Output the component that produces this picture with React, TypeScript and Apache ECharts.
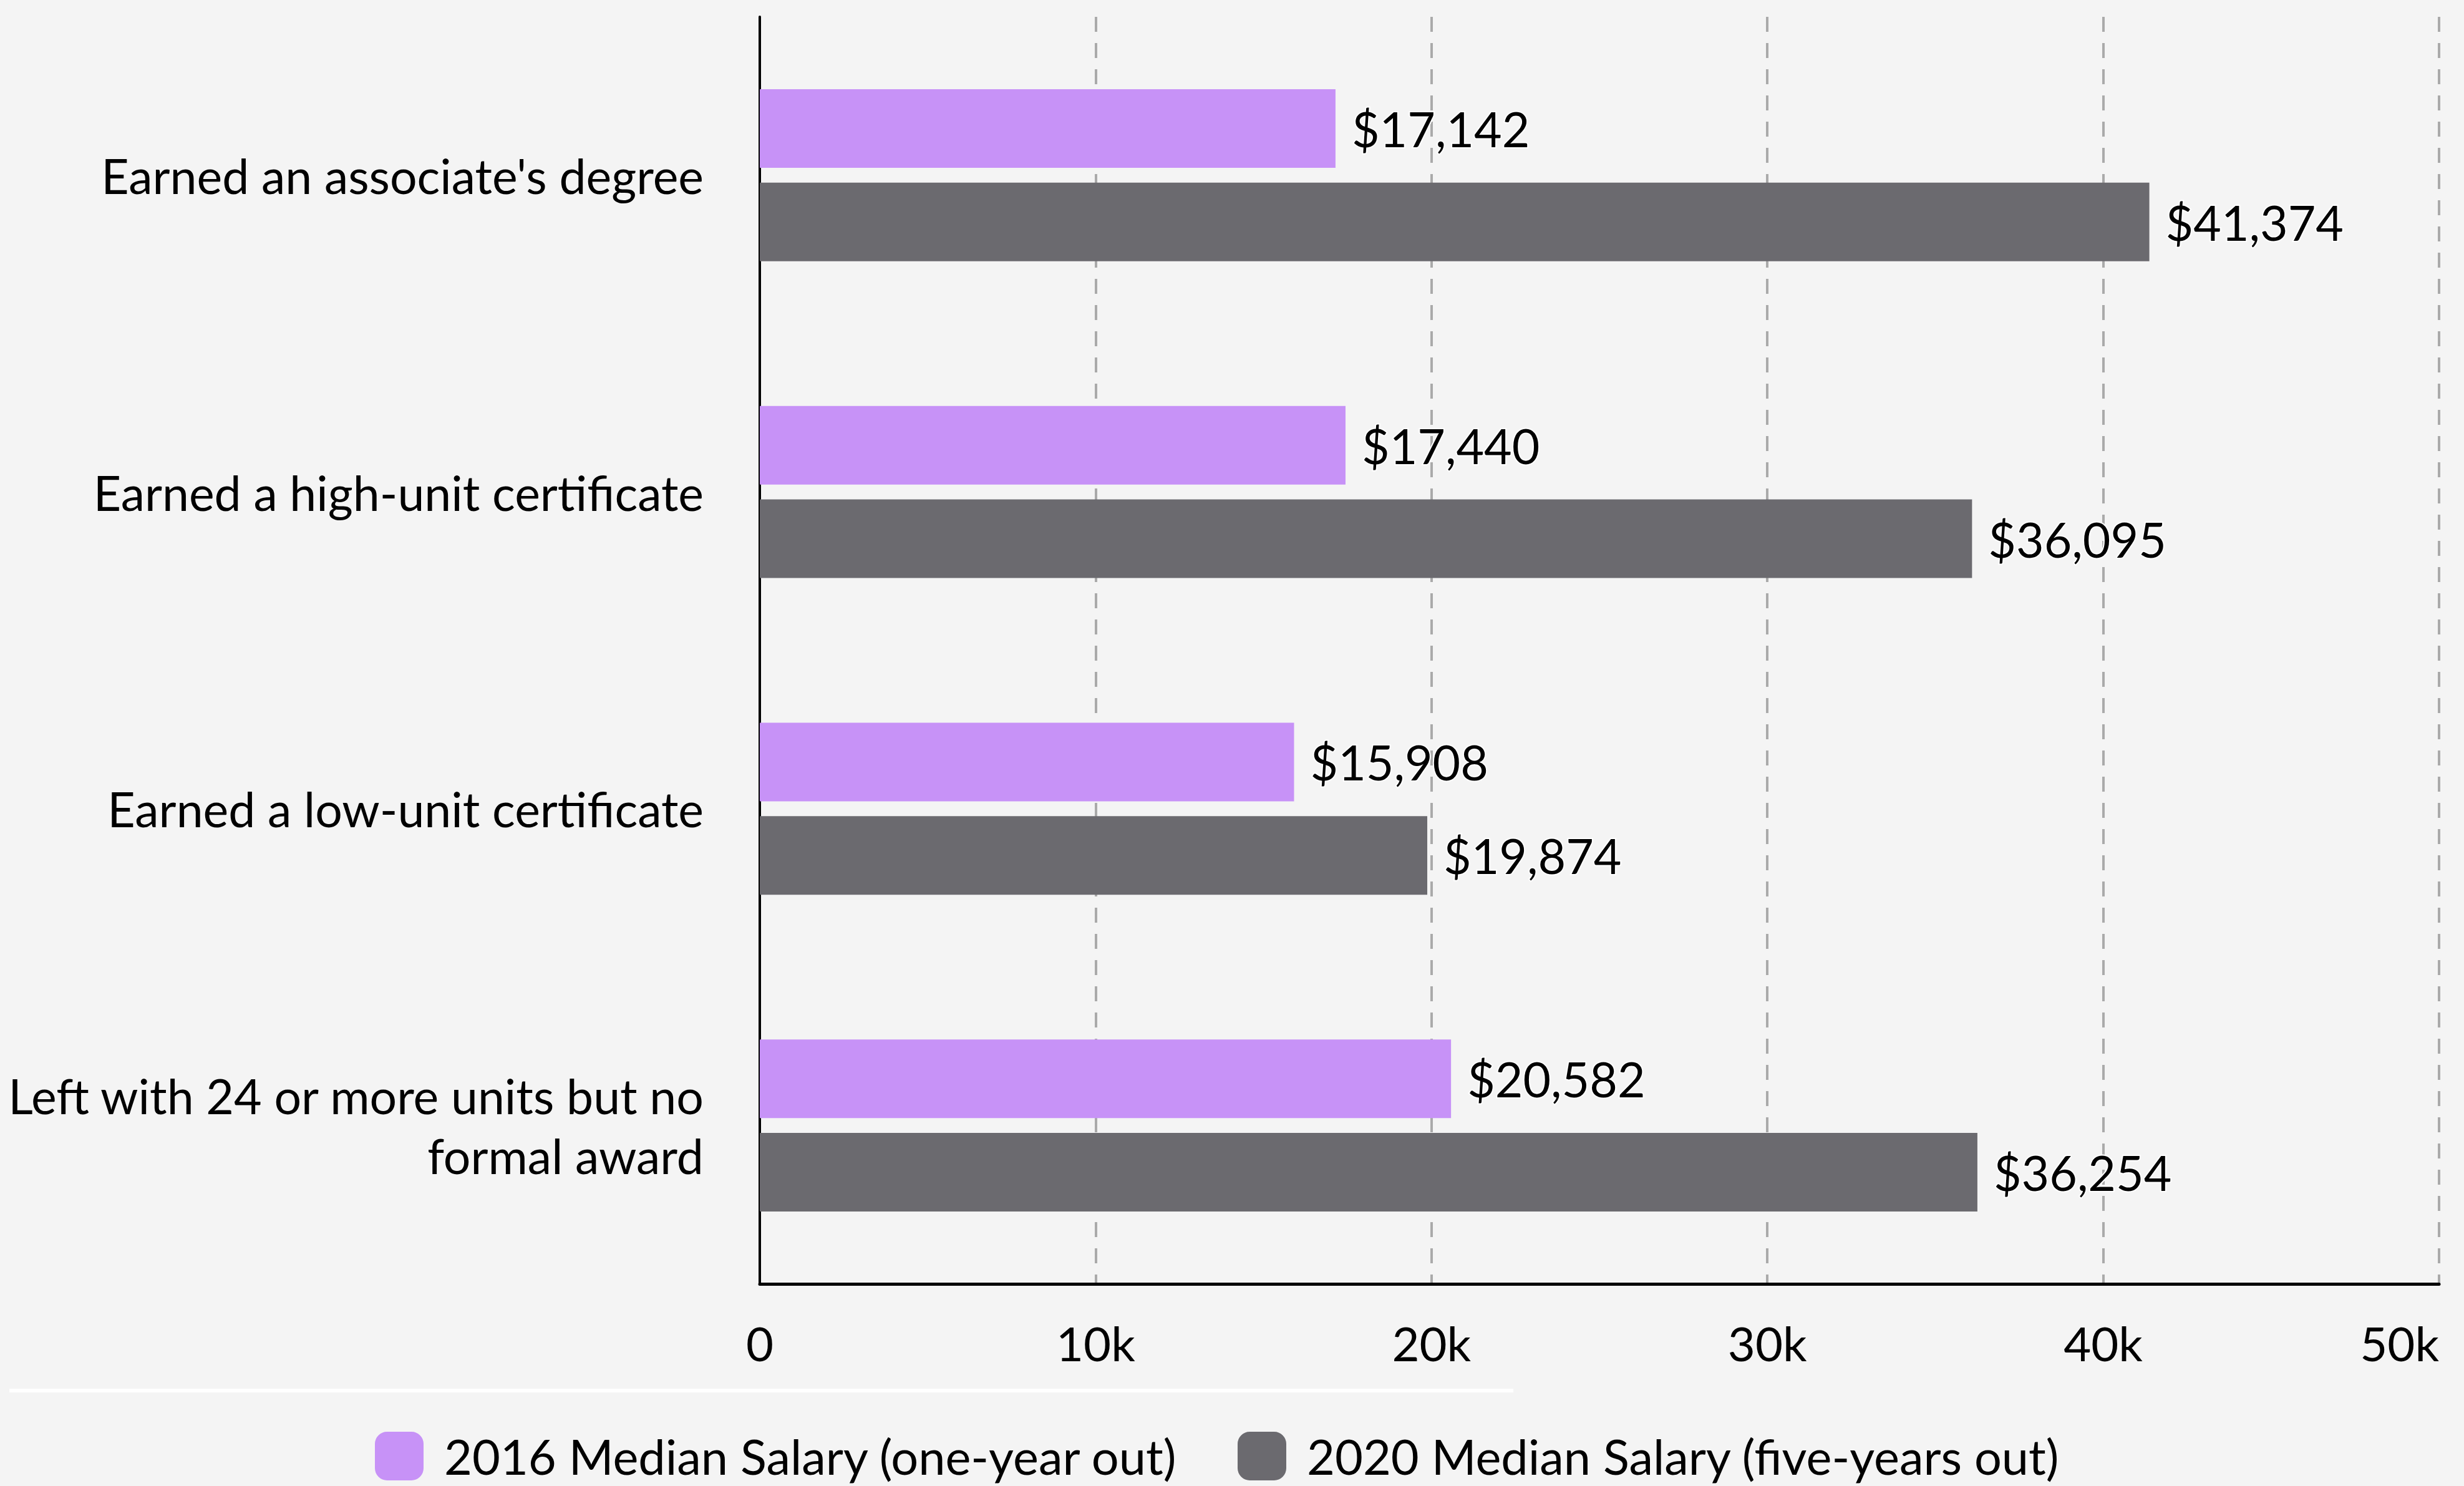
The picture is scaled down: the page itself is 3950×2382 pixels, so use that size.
import React, { useEffect, useRef } from "react";
import * as echarts from "echarts";

const categories = [
  "Earned an associate's degree",
  "Earned a high-unit certificate",
  "Earned a low-unit certificate",
  "Left with 24 or more units but no\nformal award",
];
const seriesNames = [
  "2016 Median Salary (one-year out)",
  "2020 Median Salary (five-years out)",
];
const salary2016 = [17142, 17440, 15908, 20582];
const salary2020 = [41374, 36095, 19874, 36254];
const xTickLabels: Record<number, string> = {
  0: "0",
  10000: "10k",
  20000: "20k",
  30000: "30k",
  40000: "40k",
  50000: "50k",
};

const FONT = "Lato, 'Noto Sans', sans-serif";

export default function App() {
  const ref = useRef<HTMLDivElement>(null);
  useEffect(() => {
    if (!ref.current) return;
    const chart = echarts.init(ref.current, undefined, { renderer: "svg" });
    const label = {
      show: true,
      position: "right",
      distance: 26,
      fontFamily: FONT,
      fontSize: 77,
      color: "#000",
      textBorderColor: "#fff",
      textBorderWidth: 4,
      formatter: (p: any) => "$" + Number(p.value).toLocaleString("en-US"),
    };
    chart.setOption({
      animation: false,
      backgroundColor: "#f4f4f4",
      textStyle: { fontFamily: FONT },
      grid: {
        left: 1218,
        right: 40,
        top: 27,
        bottom: 324,
        containLabel: false,
        outerBoundsMode: "none",
      },
      xAxis: {
        type: "value",
        min: 0,
        max: 50000,
        interval: 10000,
        axisLine: { show: true, lineStyle: { color: "#000", width: 5 } },
        axisTick: { show: false },
        axisLabel: {
          margin: 56,
          fontSize: 76,
          color: "#000",
          fontFamily: FONT,
          alignMaxLabel: "right",
          formatter: (v: number) => xTickLabels[v] ?? String(v),
        },
        splitLine: {
          show: true,
          lineStyle: { color: "#aaaaaa", width: 4, type: [24, 18] },
        },
      },
      yAxis: {
        type: "category",
        inverse: true,
        data: categories,
        axisLine: { show: true, lineStyle: { color: "#000", width: 4 } },
        axisTick: { show: false },
        axisLabel: {
          margin: 90,
          fontSize: 77,
          lineHeight: 96,
          color: "#000",
          fontFamily: FONT,
          align: "right",
        },
      },
      legend: {
        left: 601,
        top: 2295,
        padding: 0,
        itemWidth: 78,
        itemHeight: 78,
        itemGap: 95,
        icon: "roundRect",
        textStyle: {
          fontSize: 77.5,
          color: "#000",
          fontFamily: FONT,
          padding: [0, 0, 0, 28],
        },
        data: seriesNames,
      },
      graphic: [
        {
          type: "rect",
          shape: { x: 15, y: 2226, width: 2411, height: 6 },
          style: { fill: "#ffffff" },
          silent: true,
        },
      ],
      series: [
        {
          name: seriesNames[0],
          type: "bar",
          data: salary2016,
          barWidth: 126,
          barGap: "19%",
          itemStyle: { color: "#c792f7" },
          label,
        },
        {
          name: seriesNames[1],
          type: "bar",
          data: salary2020,
          barWidth: 126,
          barGap: "19%",
          itemStyle: { color: "#6b6a6f" },
          label,
        },
      ],
    });
    return () => chart.dispose();
  }, []);
  return (
    <div
      ref={ref}
      style={{ position: "fixed", left: 0, top: 0, width: 3950, height: 2382 }}
    />
  );
}
